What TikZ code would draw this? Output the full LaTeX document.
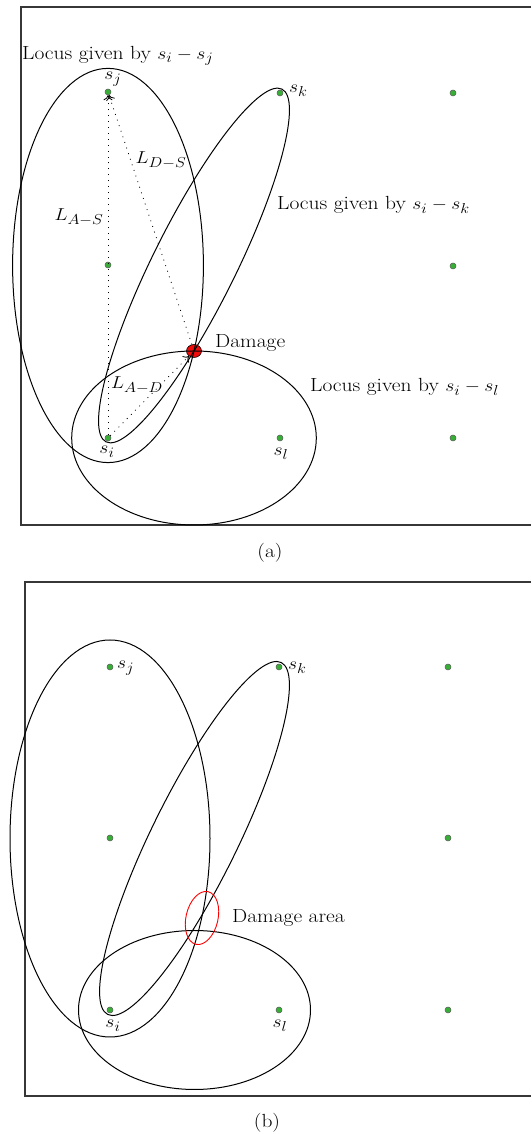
\documentclass[tikz,border=0pt]{standalone}
\usetikzlibrary{arrows.meta,shapes.geometric}
\definecolor{dotgreen}{RGB}{55,175,55}
\definecolor{framegray}{RGB}{55,55,55}
\definecolor{dmgred}{RGB}{240,10,10}
\newcommand{\stx}[1]{\scalebox{1.13}[1]{#1}}
\begin{document}
\begin{tikzpicture}[x=1pt,y=1pt,
  sensor/.style={circle,fill=dotgreen,draw=black!65,line width=0.5pt,inner sep=0pt,minimum size=6pt},
  locus/.style={line width=1pt,black},
  framebox/.style={line width=1.4pt,framegray},
  lbl/.style={font=\fontsize{19}{21}\selectfont,inner sep=0pt},
  meas/.style={dash pattern=on 0.9pt off 5pt,line width=0.8pt,-{To[length=5pt,width=9pt]}}
]
\useasboundingbox (0,0) rectangle (531,1134);
\fill[white] (0,0) rectangle (531,1134);

% ---------------- panel (a) ----------------
\draw[framebox] (531,1127) -- (21,1127) -- (21,609) -- (531,609);
\node[ellipse,fill=dmgred,draw=black,line width=0.6pt,minimum width=15pt,minimum height=13pt,inner sep=0pt] (aD) at (194,783) {};
\node[sensor] (aj) at (108,1042) {};
\node[sensor] (ak) at (280,1041) {};
\node[sensor] (ar1) at (453,1041) {};
\node[sensor] (am1) at (108,869) {};
\node[sensor] (am2) at (453,868) {};
\node[sensor] (ai) at (108,696) {};
\node[sensor] (al) at (280,696) {};
\node[sensor] (ar3) at (453,696) {};

\draw[locus] (108,868.5) ellipse [x radius=95.4, y radius=197.1];
\draw[locus, rotate around={63.5:(194,868.5)}] (194,868.5) ellipse [x radius=197.1, y radius=41.4];
\draw[locus] (194,696) ellipse [x radius=122.3, y radius=87];

\draw[meas] (ai) -- (aj);
\draw[meas] (aD) -- (aj);
\draw[meas] (ai) -- (aD);

\node[lbl,anchor=west] (la1) at (22,1078) {\stx{Locus given by $s_i - s_j$}};
\node[lbl] (la2) at (113,1055) {\stx{$s_j$}};
\node[lbl,anchor=west] (la3) at (289,1043) {\stx{$s_k$}};
\node[lbl] (la4) at (161,974) {\stx{$L_{D-S}$}};
\node[lbl] (la5) at (79,917) {\stx{$L_{A-S}$}};
\node[lbl,anchor=west] (la6) at (277,929) {\stx{Locus given by $s_i - s_k$}};
\node[lbl,anchor=west] (la7) at (215,791) {\stx{Damage}};
\node[lbl,anchor=west] (la8) at (310,747) {\stx{Locus given by $s_i - s_l$}};
\node[lbl] (la9) at (137,749) {\stx{$L_{A-D}$}};
\node[lbl] (la10) at (107,682) {\stx{$s_i$}};
\node[lbl] (la11) at (281,680) {\stx{$s_l$}};
\node[lbl] (capa) at (270,581) {\stx{(a)}};

% ---------------- panel (b) ----------------
\draw[framebox] (531,552) -- (25,552) -- (25,38) -- (531,38);
\node[sensor] (bj) at (110,467) {};
\node[sensor] (bk) at (279,467) {};
\node[sensor] (br1) at (448,467) {};
\node[sensor] (bm1) at (110,296) {};
\node[sensor] (bm2) at (448,296) {};
\node[sensor] (bi) at (110,124) {};
\node[sensor] (bl) at (279,124) {};
\node[sensor] (br3) at (448,124) {};

\draw[locus] (110,295.5) ellipse [x radius=100, y radius=198.5];
\draw[locus, rotate around={63.77:(194.5,295.5)}] (194.5,295.5) ellipse [x radius=196.2, y radius=43];
\draw[locus] (194.5,124) ellipse [x radius=116, y radius=79.5];
\node[ellipse,draw=red,line width=0.9pt,rotate=-13,minimum width=32pt,minimum height=54pt,inner sep=0pt] (bD) at (202,216) {};

\node[lbl,anchor=west] (lb1) at (117,466) {\stx{$s_j$}};
\node[lbl,anchor=west] (lb2) at (288,466) {\stx{$s_k$}};
\node[lbl] (lb3) at (113,108) {\stx{$s_i$}};
\node[lbl] (lb4) at (280,108) {\stx{$s_l$}};
\node[lbl,anchor=west] (lb5) at (232,216) {\stx{Damage area}};
\node[lbl] (capb) at (267,11) {\stx{(b)}};
\end{tikzpicture}
\end{document}
